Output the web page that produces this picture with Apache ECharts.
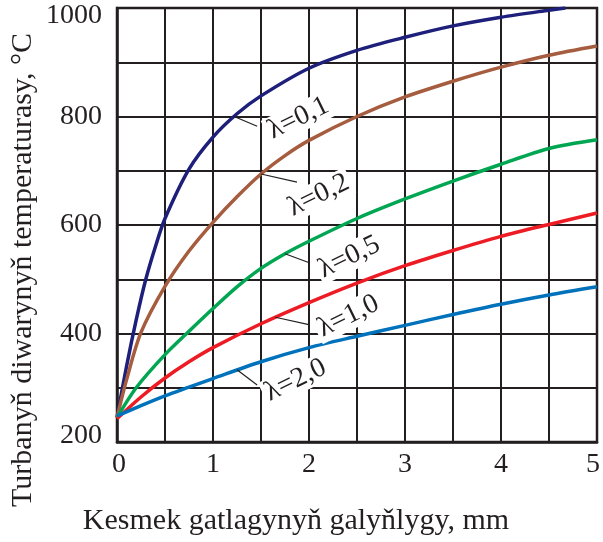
<!DOCTYPE html>
<html>
<head>
<meta charset="utf-8">
<script src="https://cdn.jsdelivr.net/npm/echarts@6/dist/echarts.min.js"></script>
<style>
  html, body { margin: 0; padding: 0; background: #fff; }
  #chart { width: 603px; height: 542px; }
</style>
</head>
<body>
<div id="chart"></div>
<script>
// tick labels shown on the axes
const xTickLabels = [0, 1, 2, 3, 4, 5]
const yTickLabels = [200, 400, 600, 800, 1000]

// curve names
const lambdas = ['λ=0,1', 'λ=0,2', 'λ=0,5', 'λ=1,0', 'λ=2,0']

// λ=0,1
const x01 = [0, 0.1, 0.2, 0.3, 0.4, 0.5, 0.75, 1.0, 1.25, 1.5, 2.0, 2.5, 3.0, 3.5, 4.0, 4.5, 4.67]
const t01 = [245, 340, 425, 500, 560, 612, 703, 762, 805, 838, 889, 922, 946, 967, 983, 996, 1000]
// λ=0,2
const x02 = [0, 0.1, 0.25, 0.5, 0.75, 1.0, 1.25, 1.5, 1.75, 2.0, 2.5, 3.0, 3.5, 4.0, 4.5, 5.0]
const t02 = [245, 315, 402, 487, 552, 605, 652, 694, 728, 756, 800, 836, 865, 891, 913, 930]
// λ=0,5
const x05 = [0, 0.2, 0.5, 0.75, 1.0, 1.25, 1.5, 1.75, 2.0, 2.5, 3.0, 3.5, 4.0, 4.5, 5.0]
const t05 = [245, 300, 361, 404, 446, 486, 520, 547, 570, 612, 648, 681, 712, 741, 757]
// λ=1,0
const x10 = [0, 0.25, 0.5, 0.75, 1.0, 1.5, 2.0, 2.5, 3.0, 3.5, 4.0, 4.5, 5.0]
const t10 = [243, 283, 318, 348, 374, 418, 457, 493, 525, 553, 579, 601, 622]
// λ=2,0
const x20 = [0, 0.25, 0.5, 0.75, 1.0, 1.5, 2.0, 2.5, 3.0, 3.5, 4.0, 4.5, 5.0]
const t20 = [248, 267, 285, 301, 317, 348, 374, 395, 415, 435, 454, 471, 486]

// where each curve label sits: leader line start (on curve), leader end, text centre
const leaderFrom = [[1.22, 800], [1.5, 694], [1.75, 547], [1.65, 430], [1.25, 333]]
const leaderTo = [[1.46, 782], [1.875, 679], [2.01, 530], [2.01, 416], [1.46, 305]]
const textAt = [[1.89, 797], [2.1, 655], [2.42, 541], [2.41, 432], [1.86, 314]]

const colors = ['#1d1f7a', '#a65c3e', '#00a651', '#ed1c24', '#0072bc']
const xs = [x01, x02, x05, x10, x20]
const ts = [t01, t02, t05, t10, t20]

const serif = '"Liberation Serif", "Times New Roman", serif'
const ink = '#231f20'

const chart = echarts.init(document.getElementById('chart'))

const series = lambdas.map((name, i) => ({
  name,
  type: 'line',
  data: xs[i].map((x, j) => [x, ts[i][j]]),
  smooth: 0.3,
  showSymbol: false,
  lineStyle: { color: colors[i], width: 3.5 },
  z: 3,
  markLine: {
    silent: true,
    symbol: ['none', 'none'],
    label: { show: false },
    lineStyle: { color: ink, width: 1.2, type: 'solid' },
    data: [[{ coord: leaderFrom[i] }, { coord: leaderTo[i] }]]
  },
  markPoint: {
    silent: true,
    symbol: 'circle',
    symbolSize: 1,
    itemStyle: { color: 'rgba(0,0,0,0)' },
    label: {
      show: true,
      formatter: name,
      rotate: 26,
      fontFamily: serif,
      fontSize: 28,
      color: ink,
      backgroundColor: '#fff',
      padding: [0, 3]
    },
    data: [{ coord: textAt[i] }]
  }
}))

const option = {
  animation: false,
  grid: {
    left: 117, top: 8, width: 480, height: 434,
    show: true, borderColor: ink, borderWidth: 2.5
  },
  xAxis: {
    type: 'value',
    min: 0, max: 5, interval: 0.5,
    axisLine: { lineStyle: { color: ink, width: 2.5 } },
    axisTick: { show: false },
    splitLine: { lineStyle: { color: ink, width: 2 } },
    axisLabel: {
      margin: 9,
      fontFamily: serif, fontSize: 28, color: ink,
      formatter: v => {
        if (!xTickLabels.includes(v)) return ''
        if (v === 0) return '{first|0}'
        if (v === 5) return '{last|5}'
        return String(v)
      },
      rich: {
        first: { fontFamily: serif, fontSize: 28, color: ink, padding: [0, 0, 0, 4] },
        last: { fontFamily: serif, fontSize: 28, color: ink, padding: [0, 8, 0, 0] }
      }
    }
  },
  yAxis: {
    type: 'value',
    min: 200, max: 1000, interval: 100,
    axisLine: { lineStyle: { color: ink, width: 2.5 } },
    axisTick: { show: false },
    splitLine: { lineStyle: { color: ink, width: 2 } },
    axisLabel: {
      margin: 15,
      fontFamily: serif, fontSize: 28, color: ink,
      formatter: v => {
        if (!yTickLabels.includes(v)) return ''
        if (v === 1000) return '{top|1000}'
        if (v === 200) return '{bottom|200}'
        return String(v)
      },
      rich: {
        top: { fontFamily: serif, fontSize: 28, color: ink, padding: [16, 0, 0, 0] },
        bottom: { fontFamily: serif, fontSize: 28, color: ink, padding: [0, 0, 12, 0] }
      }
    }
  },
  graphic: [
    {
      type: 'text',
      x: 23, y: 270,
      rotation: Math.PI / 2,
      style: {
        text: 'Turbanyň diwarynyň temperaturasy, °C',
        font: '30px ' + serif,
        fill: ink,
        align: 'center',
        verticalAlign: 'middle'
      }
    },
    {
      type: 'text',
      x: 296, y: 521,
      style: {
        text: 'Kesmek gatlagynyň galyňlygy, mm',
        font: '30px ' + serif,
        fill: ink,
        align: 'center',
        verticalAlign: 'middle'
      }
    }
  ],
  series
}

chart.setOption(option)
window.addEventListener('resize', () => chart.resize())
</script>
</body>
</html>
